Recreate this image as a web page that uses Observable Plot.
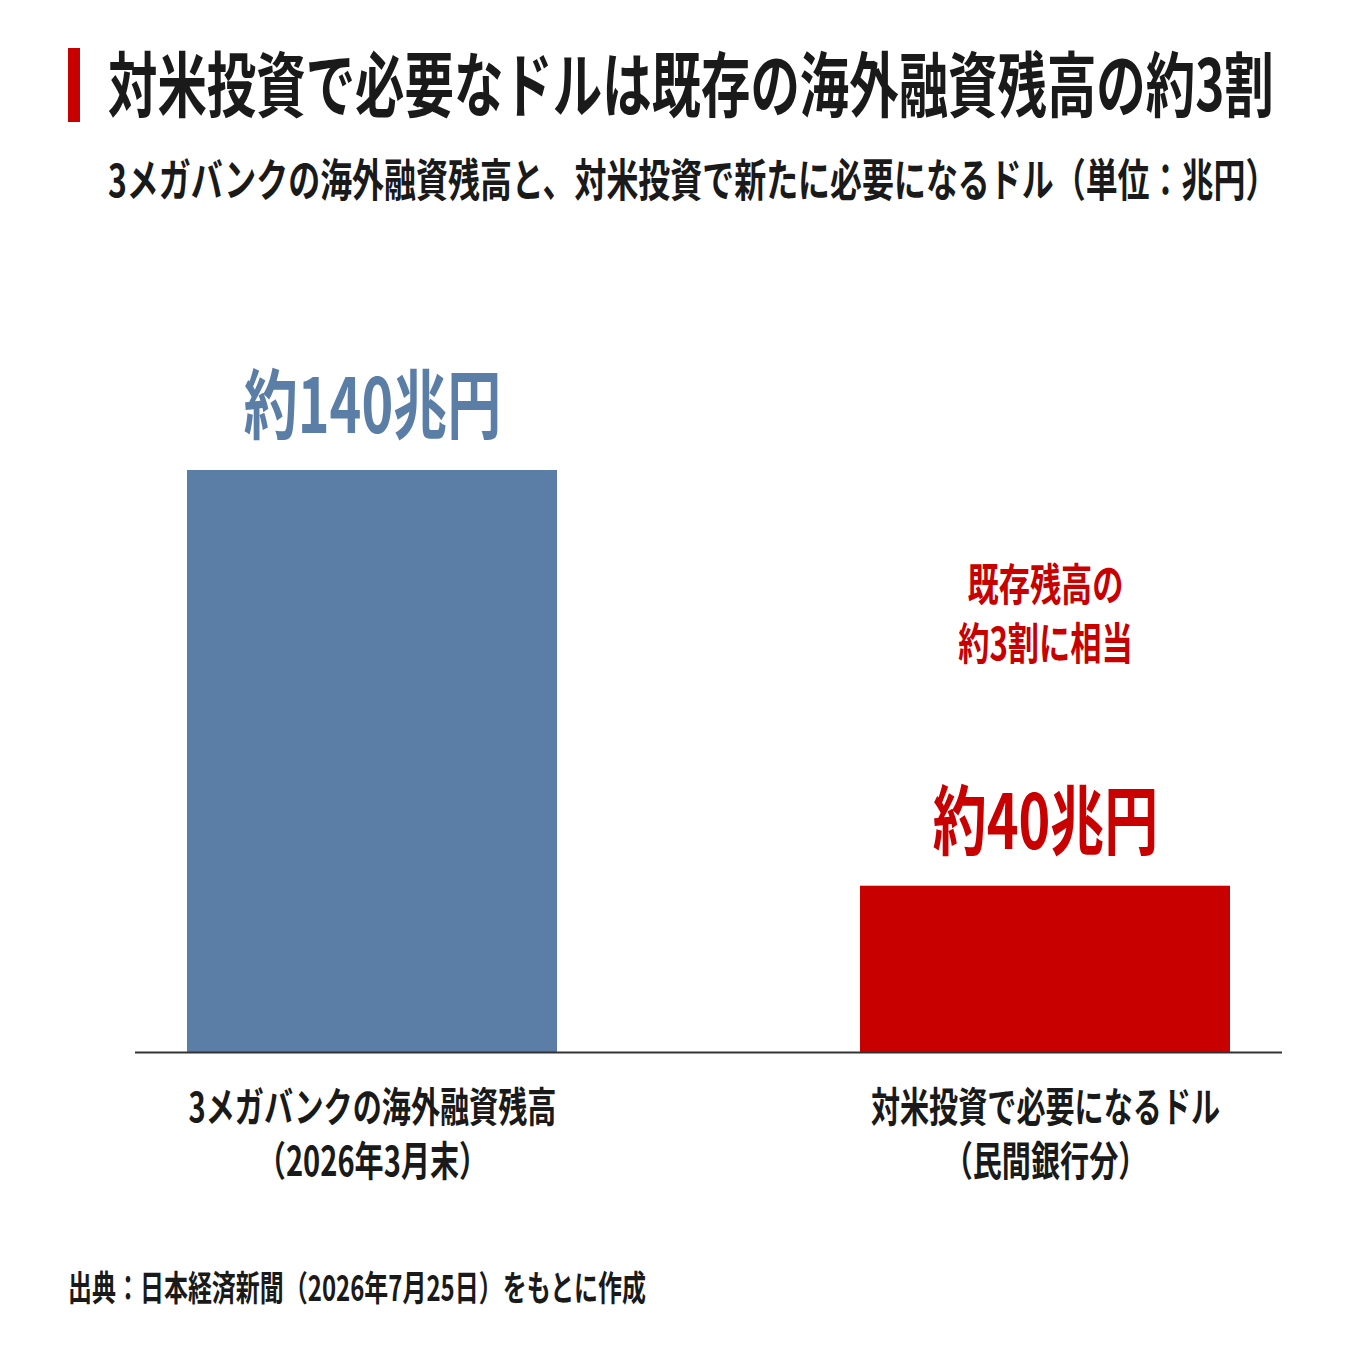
<!DOCTYPE html>
<html lang="ja">
<head>
<meta charset="utf-8">
<script src="https://cdn.jsdelivr.net/npm/d3@7"></script>
<script src="https://cdn.jsdelivr.net/npm/@observablehq/plot@0.6"></script>
<style>
  html, body { margin: 0; padding: 0; background: #fff; }
  #page { position: relative; width: 1350px; height: 1350px; background: #fff; overflow: hidden;
          font-family: "Noto Sans CJK JP", "Noto Sans", sans-serif; color: #1a1a1a; }
  #header { position: relative; height: 230px; }
  .cond { position: absolute; white-space: nowrap; transform-origin: left center; font-weight: 700; }
  #bar { position: absolute; left: 68px; top: 48px; width: 12px; height: 74px; background: #c80000; }
  #title { left: 108px; top: 45px; font-size: 71px; line-height: 71px; transform: scaleX(0.696); }
  #subtitle { left: 108px; top: 155px; font-size: 45px; line-height: 45px; transform: scaleX(0.71); }
  #footer { position: relative; height: 120px; }
  #caption { left: 68px; top: 38px; font-size: 35px; line-height: 35px; transform: scaleX(0.685); }
  #chart svg { display: block; }
</style>
</head>
<body>
<div id="page">
  <div id="header">
    <div id="bar"></div>
    <div id="title" class="cond"></div>
    <div id="subtitle" class="cond"></div>
  </div>
  <div id="chart"></div>
  <div id="footer">
    <div id="caption" class="cond"></div>
  </div>
</div>
<script>
const titleText = "対米投資で必要なドルは既存の海外融資残高の約3割";
const subtitleText = "3メガバンクの海外融資残高と、対米投資で新たに必要になるドル（単位：兆円）";
const captionText = "出典：日本経済新聞（2026年7月25日）をもとに作成";

const categories = ["3メガバンクの海外融資残高\n（2026年3月末）", "対米投資で必要になるドル\n（民間銀行分）"];
const values = [140, 40];
const valueLabels = ["約140兆円", "約40兆円"];
const barColors = ["#5b7ea7", "#c80000"];
const annotationText = "既存残高の\n約3割に相当";

document.getElementById("title").textContent = titleText;
document.getElementById("subtitle").textContent = subtitleText;
document.getElementById("caption").textContent = captionText;

const data = categories.map((c, i) => ({category: c, value: values[i], label: valueLabels[i], color: barColors[i]}));
const annotation = [{category: categories[1], value: values[1], text: annotationText}];

const plot = Plot.plot({
  width: 1350,
  height: 1000,
  marginLeft: 135,
  marginRight: 68,
  marginTop: 240,
  marginBottom: 178,
  style: {fontFamily: "'Noto Sans CJK JP', sans-serif", background: "#fff", color: "#1a1a1a"},
  x: {domain: categories, paddingInner: 0.45, paddingOuter: 0.077, axis: null},
  y: {domain: [0, 140], axis: null},
  color: {type: "identity"},
  marks: [
    Plot.barY(data, {x: "category", y: "value", fill: "color"}),
    Plot.ruleY([0], {stroke: "#333", strokeWidth: 2}),
    Plot.text(data, {x: "category", y: "value", text: "label", fill: "color", fontSize: 76, fontWeight: 700, dy: -62, lineAnchor: "middle"}),
    Plot.text(annotation, {x: "category", y: "value", text: "text", fill: "#c80000", fontSize: 44, fontWeight: 700, lineHeight: 1.34, dy: -275, lineAnchor: "middle"}),
    Plot.axisX({tickSize: 0, tickPadding: 30, fontSize: 41, fontWeight: 700, lineHeight: 1.34, fill: "#1a1a1a", label: null})
  ]
});

plot.querySelectorAll("text").forEach(t => {
  let tr = t.getAttribute("transform") || "";
  const x = +t.getAttribute("x") || 0, y = +t.getAttribute("y") || 0;
  if (x || y) { t.removeAttribute("x"); t.removeAttribute("y"); tr += ` translate(${x},${y})`; }
  t.setAttribute("transform", (tr + " scale(0.71,1)").trim());
});

document.getElementById("chart").appendChild(plot);
</script>
</body>
</html>
